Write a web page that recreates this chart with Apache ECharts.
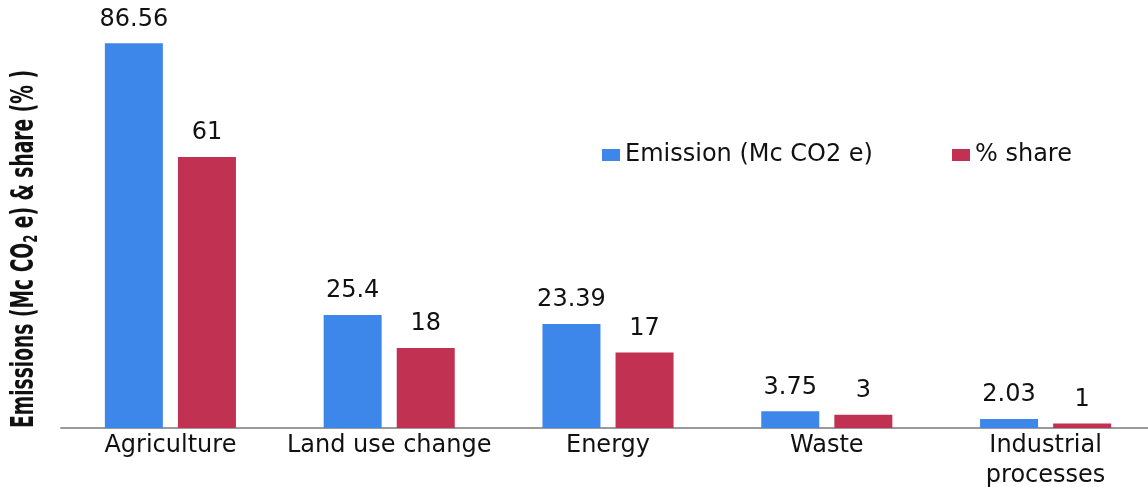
<!DOCTYPE html>
<html>
<head>
<meta charset="utf-8">
<script src="https://cdn.jsdelivr.net/npm/echarts@6/dist/echarts.min.js"></script>
<style>
  html, body { margin: 0; padding: 0; background: #ffffff; }
  #chart { width: 1148px; height: 487px; }
</style>
</head>
<body>
<div id="chart"></div>
<script>
// Emission sources and their values
const categories = ['Agriculture', 'Land use change', 'Energy', 'Waste', 'Industrial\nprocesses'];
const emission = [86.56, 25.4, 23.39, 3.75, 2.03];
const share = [61, 18, 17, 3, 1];
const seriesNames = ['Emission (Mc CO2 e)', '% share'];
const titleParts = ['Emissions (Mc CO', '2', ' e) & share (% )'];

const FONT = '"DejaVu Sans", sans-serif';
const TEXT_SIZE = 24;
const TITLE_FONT = '"Liberation Sans Narrow", "DejaVu Sans Condensed", sans-serif';
const TITLE_SIZE = 32;
const SUB_SIZE = 20;
const TITLE_LENGTH = 358;

// Measure the axis title so it can be squeezed to a fixed length along the axis
const ctx = document.createElement('canvas').getContext('2d');
function textWidth(str, size) {
  ctx.font = 'bold ' + size + 'px ' + TITLE_FONT;
  return ctx.measureText(str).width;
}
const naturalLength = textWidth(titleParts[0], TITLE_SIZE) +
  textWidth(titleParts[1], SUB_SIZE) + textWidth(titleParts[2], TITLE_SIZE);
const squeeze = TITLE_LENGTH / naturalLength;

const chart = echarts.init(document.getElementById('chart'));
chart.setOption({
  animation: false,
  backgroundColor: '#ffffff',
  legend: {
    left: 597,
    top: 138,
    itemWidth: 18,
    itemHeight: 12,
    itemGap: 79,
    icon: 'rect',
    textStyle: { fontFamily: FONT, fontSize: TEXT_SIZE, color: '#111' },
    data: seriesNames
  },
  grid: { left: 61, width: 1094, top: 28, bottom: 59, outerBoundsMode: 'none' },
  xAxis: {
    type: 'category',
    data: categories,
    axisLine: { lineStyle: { color: '#9a9a9a', width: 2 } },
    axisTick: { show: false },
    axisLabel: {
      fontFamily: FONT, fontSize: TEXT_SIZE, color: '#111',
      lineHeight: 30, margin: 3, interval: 0
    }
  },
  yAxis: {
    type: 'value',
    min: 0,
    max: 90,
    splitLine: { show: false },
    axisLine: { show: false },
    axisTick: { show: false },
    axisLabel: { show: false }
  },
  graphic: [{
    type: 'text',
    x: 25,
    y: 249,
    rotation: Math.PI / 2,
    scaleX: squeeze,
    style: {
      text: '{t|' + titleParts[0] + '}{s|' + titleParts[1] + '}{t|' + titleParts[2] + '}',
      align: 'center',
      verticalAlign: 'middle',
      rich: {
        t: { fontFamily: TITLE_FONT, fontWeight: 'bold', fontSize: TITLE_SIZE, fill: '#111' },
        s: { fontFamily: TITLE_FONT, fontWeight: 'bold', fontSize: SUB_SIZE, fill: '#111', padding: [14, 0, 0, 0] }
      }
    }
  }],
  series: [
    {
      name: seriesNames[0],
      type: 'bar',
      data: emission,
      barWidth: 58,
      barGap: '26%',
      itemStyle: { color: '#3D87EA' },
      label: {
        show: true, position: 'top', distance: 12,
        fontFamily: FONT, fontSize: TEXT_SIZE, color: '#111'
      }
    },
    {
      name: seriesNames[1],
      type: 'bar',
      data: share,
      barWidth: 58,
      itemStyle: { color: '#C13151' },
      label: {
        show: true, position: 'top', distance: 12,
        fontFamily: FONT, fontSize: TEXT_SIZE, color: '#111'
      }
    }
  ]
});
</script>
</body>
</html>
